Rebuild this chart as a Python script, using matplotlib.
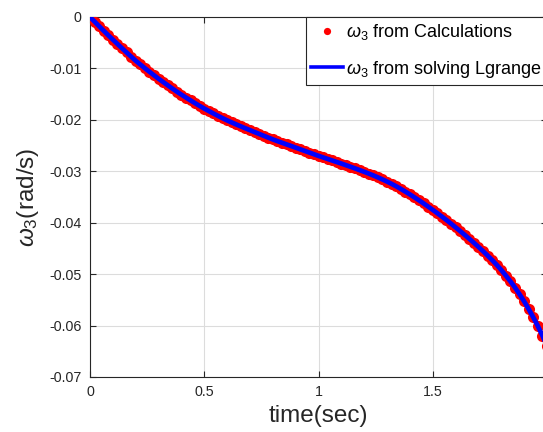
import matplotlib
matplotlib.use("Agg")
import matplotlib.pyplot as plt
import numpy as np

plt.rcParams['font.family'] = ['Liberation Sans', 'DejaVu Sans']
plt.rcParams['mathtext.fontset'] = 'custom'
plt.rcParams['mathtext.rm'] = 'Liberation Sans'
plt.rcParams['mathtext.it'] = 'Liberation Sans:italic'
plt.rcParams['axes.unicode_minus'] = False

time_sec = [i * 0.02 for i in range(101)]
omega3 = [
    0.00000, -0.00090, -0.00179, -0.00268, -0.00355, -0.00440, -0.00524, -0.00607, -0.00689, -0.00770,
    -0.00850, -0.00923, -0.00995, -0.01064, -0.01133, -0.01200, -0.01264, -0.01327, -0.01390, -0.01451,
    -0.01510, -0.01566, -0.01622, -0.01676, -0.01729, -0.01780, -0.01828, -0.01876, -0.01922, -0.01967,
    -0.02010, -0.02050, -0.02089, -0.02127, -0.02164, -0.02200, -0.02237, -0.02273, -0.02309, -0.02345,
    -0.02380, -0.02413, -0.02445, -0.02477, -0.02508, -0.02540, -0.02572, -0.02604, -0.02636, -0.02668,
    -0.02700, -0.02730, -0.02760, -0.02790, -0.02820, -0.02850, -0.02881, -0.02912, -0.02944, -0.02977,
    -0.03010, -0.03045, -0.03081, -0.03119, -0.03159, -0.03200, -0.03245, -0.03292, -0.03342, -0.03395,
    -0.03450, -0.03507, -0.03565, -0.03625, -0.03687, -0.03750, -0.03815, -0.03881, -0.03948, -0.04018,
    -0.04090, -0.04163, -0.04237, -0.04313, -0.04390, -0.04470, -0.04553, -0.04638, -0.04726, -0.04820,
    -0.04920, -0.05028, -0.05140, -0.05261, -0.05392, -0.05530, -0.05680, -0.05840, -0.06010, -0.06195,
    -0.06400,
]

x_ticks = [0, 0.5, 1, 1.5, 2]
x_tick_labels = ['0', '0.5', '1', '1.5', '2']
y_ticks = [0, -0.01, -0.02, -0.03, -0.04, -0.05, -0.06, -0.07]
y_tick_labels = ['0', '-0.01', '-0.02', '-0.03', '-0.04', '-0.05', '-0.06', '-0.07']

fig = plt.figure(figsize=(5.43, 4.32), dpi=100)
ax = fig.add_axes([90/543, 55/432, 457/543, 360/432])

ax.plot(time_sec, omega3, linestyle='none', marker='o', color='#ff0000',
        markersize=8, markeredgewidth=0, label=r'$\omega_3$ from Calculations', zorder=3)
ax.plot(time_sec, omega3, color='#0000ff', linewidth=3.4,
        label=r'$\omega_3$ from solving Lgrange', zorder=4)

ax.set_xlim(0, 2)
ax.set_ylim(-0.07, 0)
ax.set_xticks(x_ticks)
ax.set_xticklabels(x_tick_labels)
ax.set_yticks(y_ticks)
ax.set_yticklabels(y_tick_labels)

ax.grid(True, color='#dcdcdc', linewidth=0.8)
ax.set_axisbelow(True)
for s in ax.spines.values():
    s.set_color('#262626')
    s.set_linewidth(0.8)
ax.tick_params(direction='in', length=4, width=0.8, colors='#262626',
               labelsize=10.3, top=True, right=True, pad=6)
for lab in ax.get_xticklabels() + ax.get_yticklabels():
    lab.set_color('#262626')

ax.set_xlabel('time(sec)', fontsize=17.5, color='#262626', labelpad=4)
ax.set_ylabel(r'$\omega_3$(rad/s)', fontsize=17.5, color='#262626', labelpad=6)

leg = ax.legend(loc='upper right', bbox_to_anchor=(1.0, 1.0), borderaxespad=0,
                fontsize=13, fancybox=False, framealpha=1, edgecolor='#262626',
                handlelength=1.75, handletextpad=0.15, borderpad=0.3, labelspacing=0.9,
                markerscale=0.65)
leg.get_frame().set_linewidth(0.8)
for h in leg.legend_handles:
    if hasattr(h, 'get_linestyle') and h.get_linestyle() == '-':
        h.set_linewidth(2.6)

fig.savefig('out.png', dpi=100)
